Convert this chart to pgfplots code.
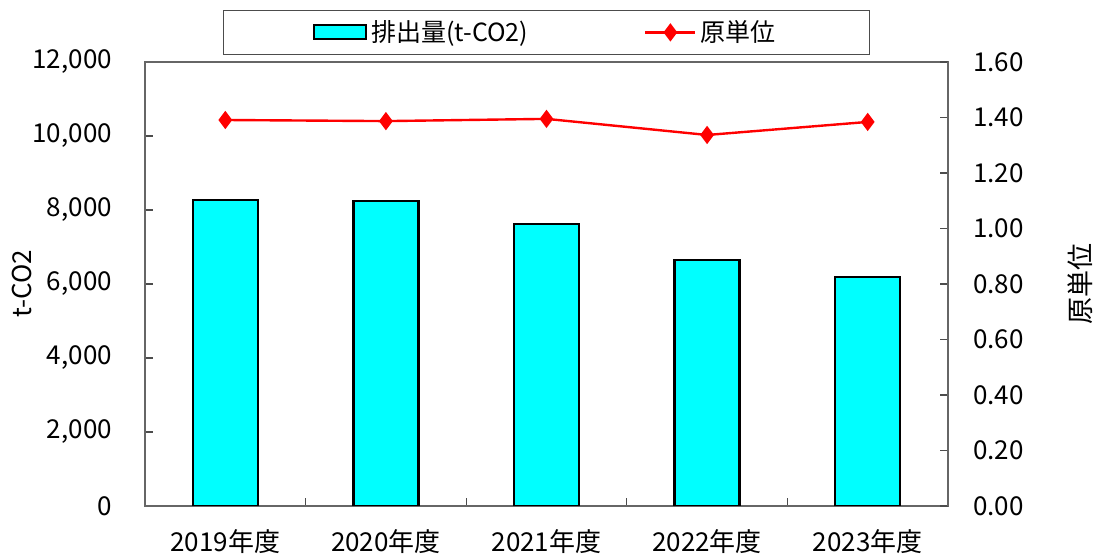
\documentclass[border=0pt]{standalone}
\usepackage{pgfplots}
\pgfplotsset{compat=1.18}
\usepackage{fontspec}
\setmainfont{Noto Sans CJK JP}
\usetikzlibrary{calc}

\definecolor{barcyan}{HTML}{00FFFF}
\definecolor{linered}{HTML}{FF0000}

\pgfplotsset{
  base/.style={
    at={(0pt,0pt)}, anchor=south west,
    width=401.5pt, height=222pt, scale only axis,
    xmin=-0.5, xmax=4.5,
    /pgf/number format/assume math mode=true,
    tick label style={font=\fontsize{13}{15}\selectfont},
    axis line style={draw=black!60, line width=0.8pt},
    every tick/.style={draw=black!70, line width=0.6pt},
    major tick length=4pt, minor tick length=4pt,
    tick align=inside,
  },
  barleg/.style={legend image code/.code={%
    \draw[##1, line width=1pt] (0pt,-3.5pt) rectangle (26pt,3.5pt);}},
  lineleg/.style={legend image code/.code={%
    \draw[mark repeat=2, mark phase=2, ##1] plot coordinates {(0pt,0pt) (12.5pt,0pt) (25pt,0pt)};}},
}

\begin{document}
\begin{tikzpicture}
\useasboundingbox (-72.5pt,-25pt) rectangle (476.5pt,253pt);

\begin{axis}[base,
  ymin=0, ymax=12000, ytick={0,2000,...,12000},
  scaled y ticks=false,
  yticklabel style={xshift=-13pt, /pgf/number format/fixed, /pgf/number format/1000 sep={,}},
  ytick pos=left, xtick pos=bottom,
  xtick={0,...,4},
  xticklabels={2019年度,2020年度,2021年度,2022年度,2023年度},
  major x tick style={draw=none},
  minor xtick={0.5,1.5,2.5,3.5},
  xticklabel style={yshift=-8pt},
  ylabel={t-CO2},
  every axis y label/.style={at={($(rel axis cs:0,0.5)+(-61.5pt,0)$)}, anchor=center, rotate=90,
    font=\fontsize{13}{15}\selectfont},
  legend columns=2,
  legend style={at={(0.5,1)}, anchor=south, yshift=3.5pt,
    draw=black!70, line width=0.6pt,
    font=\fontsize{12.5}{14}\selectfont,
    inner xsep=45pt, inner ysep=3pt,
    /tikz/every even column/.append style={column sep=56pt}},
]
\addplot[ybar, bar width=32.5pt, fill=barcyan, draw=black, line width=1.2pt, barleg]
  coordinates {(0,8270) (1,8245) (2,7625) (3,6650) (4,6190)};
\addlegendentry{排出量(t-CO2)}
\addlegendimage{linered, line width=1.2pt, mark=diamond*, mark size=3.6pt, mark options={fill=linered}, lineleg}
\addlegendentry{原単位}
\end{axis}

\begin{axis}[base,
  ymin=0, ymax=1.6, ytick={0,0.2,...,1.6},
  hide x axis,
  axis y line*=right,
  yticklabel style={xshift=9pt, /pgf/number format/fixed, /pgf/number format/fixed zerofill, /pgf/number format/precision=2},
  ylabel={原単位},
  every axis y label/.style={at={($(rel axis cs:1,0.5)+(66pt,0)$)}, anchor=center, rotate=90,
    font=\fontsize{13.5}{15}\selectfont},
]
\addplot[linered, line width=1.2pt, mark=diamond*, mark size=3.6pt, mark options={fill=linered}]
  coordinates {(0,1.391) (1,1.387) (2,1.395) (3,1.337) (4,1.384)};
\end{axis}
\end{tikzpicture}
\end{document}
